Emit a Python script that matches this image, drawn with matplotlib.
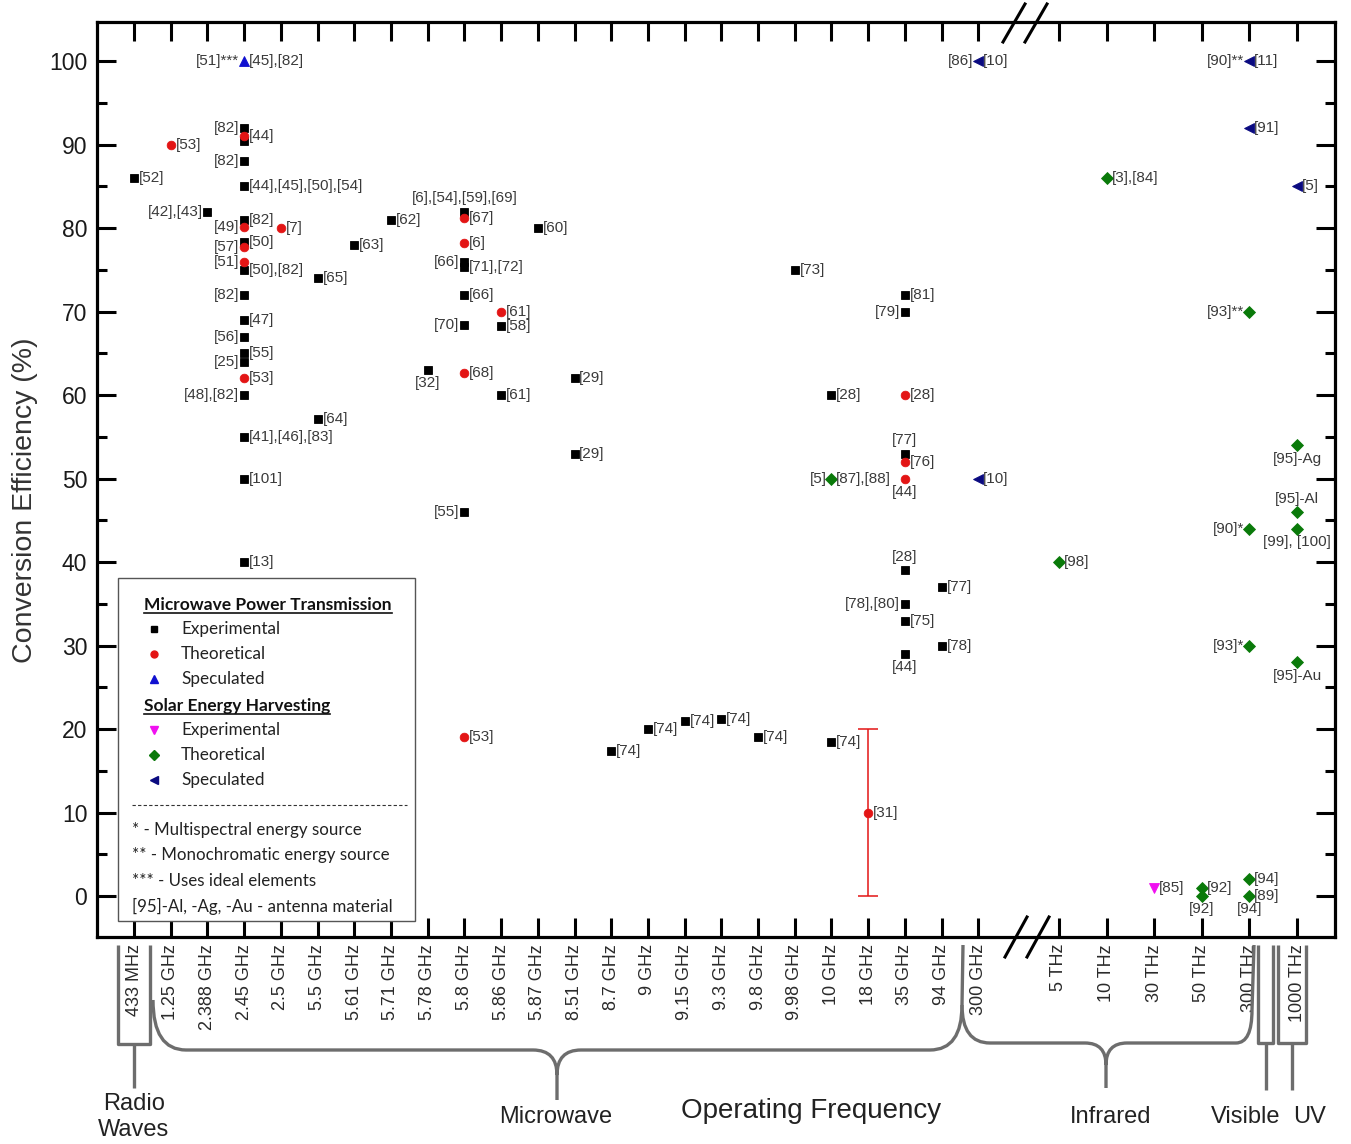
import matplotlib
matplotlib.use("Agg")
import matplotlib.pyplot as plt
from matplotlib.path import Path
from matplotlib.patches import PathPatch, Rectangle
from matplotlib.lines import Line2D
from matplotlib.ticker import MultipleLocator, NullLocator
import numpy as np

W, H, DPI = 1351, 1144, 100

# ---------------- data ----------------
freq_labels = ["433 MHz", "1.25 GHz", "2.388 GHz", "2.45 GHz", "2.5 GHz", "5.5 GHz",
               "5.61 GHz", "5.71 GHz", "5.78 GHz", "5.8 GHz", "5.86 GHz", "5.87 GHz",
               "8.51 GHz", "8.7 GHz", "9 GHz", "9.15 GHz", "9.3 GHz", "9.8 GHz",
               "9.98 GHz", "10 GHz", "18 GHz", "35 GHz", "94 GHz", "300 GHz",
               "5 THz", "10 THz", "30 THz", "50 THz", "300 THz", "1000 THz"]

# Microwave Power Transmission - experimental
mpt_exp_freq = ["433 MHz", "2.388 GHz", "2.45 GHz", "2.45 GHz", "2.45 GHz", "2.45 GHz",
                "2.45 GHz", "2.45 GHz", "2.45 GHz", "2.45 GHz", "2.45 GHz", "2.45 GHz",
                "2.45 GHz", "2.45 GHz", "2.45 GHz", "2.45 GHz", "2.45 GHz", "2.45 GHz",
                "5.5 GHz", "5.5 GHz", "5.61 GHz", "5.71 GHz", "5.78 GHz", "5.8 GHz",
                "5.8 GHz", "5.8 GHz", "5.8 GHz", "5.8 GHz", "5.8 GHz", "5.86 GHz",
                "5.86 GHz", "5.87 GHz", "8.51 GHz", "8.51 GHz", "8.7 GHz", "9 GHz",
                "9.15 GHz", "9.3 GHz", "9.8 GHz", "9.98 GHz", "10 GHz", "10 GHz",
                "35 GHz", "35 GHz", "35 GHz", "35 GHz", "35 GHz", "35 GHz", "35 GHz",
                "94 GHz", "94 GHz"]
mpt_exp_eff = [86, 82, 92, 90.4, 88, 85, 81, 78.3, 75, 72, 69, 67, 65, 64, 60, 55, 50, 40,
               74, 57.2, 78, 81, 63, 82, 76, 75.3, 72, 68.4, 46, 68.3, 60, 80, 62, 53,
               17.4, 20, 21, 21.2, 19, 75, 18.4, 60, 72, 70, 53, 39, 35, 33, 29, 37, 30]
mpt_exp_refs = ["[52]", "[42],[43]", "[82]", "", "[82]", "[44],[45],[50],[54]", "[82]",
                "[50]", "[50],[82]", "[82]", "[47]", "[56]", "[55]", "[25]", "[48],[82]",
                "[41],[46],[83]", "[101]", "[13]", "[65]", "[64]", "[63]", "[62]", "[32]",
                "[6],[54],[59],[69]", "[66]", "[71],[72]", "[66]", "[70]", "[55]", "[58]",
                "[61]", "[60]", "[29]", "[29]", "[74]", "[74]", "[74]", "[74]", "[74]",
                "[73]", "[74]", "[28]", "[81]", "[79]", "[77]", "[28]", "[78],[80]", "[75]",
                "[44]", "[77]", "[78]"]
mpt_exp_side = ["r", "l", "l", "", "l", "r", "r", "r", "r", "l", "r", "l", "r", "l", "l",
                "r", "r", "r", "r", "r", "r", "r", "b", "t", "l", "r", "r", "l", "l", "r",
                "r", "r", "r", "r", "r", "r", "r", "r", "r", "r", "r", "r", "r", "l", "t",
                "t", "l", "r", "b", "r", "r"]

# Microwave Power Transmission - theoretical
mpt_theo_freq = ["1.25 GHz", "2.45 GHz", "2.45 GHz", "2.45 GHz", "2.45 GHz", "2.45 GHz",
                 "2.5 GHz", "5.8 GHz", "5.8 GHz", "5.8 GHz", "5.8 GHz", "5.86 GHz",
                 "18 GHz", "35 GHz", "35 GHz", "35 GHz"]
mpt_theo_eff = [90, 91, 80.2, 77.7, 76, 62, 80, 81.2, 78.2, 62.7, 19, 70, 10, 60, 52, 50]
mpt_theo_refs = ["[53]", "[44]", "[49]", "[57]", "[51]", "[53]", "[7]", "[67]", "[6]",
                 "[68]", "[53]", "[61]", "[31]", "[28]", "[76]", "[44]"]
mpt_theo_side = ["r", "r", "l", "l", "l", "r", "r", "r", "r", "r", "r", "r", "r", "r",
                 "r", "b"]
# range bar of ref [31]
mpt_range_freq = ["18 GHz"]
mpt_range_eff = [10]
mpt_range_err = [10]

# Microwave Power Transmission - speculated
mpt_spec_freq = ["2.45 GHz"]
mpt_spec_eff = [100]
mpt_spec_refs = ["[51]***|[45],[82]"]
mpt_spec_side = ["lr"]

# Solar Energy Harvesting - experimental
seh_exp_freq = ["30 THz"]
seh_exp_eff = [1]
seh_exp_refs = ["[85]"]
seh_exp_side = ["r"]

# Solar Energy Harvesting - theoretical
seh_theo_freq = ["10 GHz", "5 THz", "10 THz", "50 THz", "50 THz", "300 THz", "300 THz",
                 "300 THz", "300 THz", "300 THz", "1000 THz", "1000 THz", "1000 THz",
                 "1000 THz"]
seh_theo_eff = [50, 40, 86, 1, 0, 70, 44, 30, 2, 0, 54, 46, 44, 28]
seh_theo_refs = ["[5]|[87],[88]", "[98]", "[3],[84]", "[92]", "[92]", "[93]**", "[90]*",
                 "[93]*", "[94]", "[89]|[94]", "[95]-Ag", "[95]-Al", "[99], [100]",
                 "[95]-Au"]
seh_theo_side = ["lr", "r", "r", "r", "b", "l", "l", "l", "r", "rb", "b", "t", "b", "b"]

# Solar Energy Harvesting - speculated
seh_spec_freq = ["300 GHz", "300 GHz", "300 THz", "300 THz", "1000 THz"]
seh_spec_eff = [100, 50, 100, 92, 85]
seh_spec_refs = ["[86]|[10]", "[10]", "[90]**|[11]", "[91]", "[5]"]
seh_spec_side = ["lr", "r", "lr", "r", "r"]

# ---------------- layout ----------------
n_low = freq_labels.index("300 GHz") + 1
break_gap, wide_step = 2.2, 1.297
cat_pos = {}
for i, lab in enumerate(freq_labels):
    cat_pos[lab] = float(i) if i < n_low else (n_low - 1) + break_gap + (i - n_low) * wide_step


def F(x, y):
    return (x / W, 1 - y / H)


fig = plt.figure(figsize=(W / DPI, H / DPI), dpi=DPI)
ax = fig.add_axes([97 / W, 1 - 937 / H, (1335 - 97) / W, (937 - 22) / H])
ax.set_xlim(-1.01, 32.72)
ax.set_ylim(-4.9, 104.7)

LBL_FONT = dict(family="Liberation Sans", size=11, color="#3a3a3a")

series = [
    (mpt_exp_freq, mpt_exp_eff, mpt_exp_refs, mpt_exp_side, dict(marker="s", color="black", ms=5.8)),
    (mpt_theo_freq, mpt_theo_eff, mpt_theo_refs, mpt_theo_side, dict(marker="o", color="#e31515", ms=6.2)),
    (mpt_spec_freq, mpt_spec_eff, mpt_spec_refs, mpt_spec_side, dict(marker="^", color="#1010d0", ms=7)),
    (seh_exp_freq, seh_exp_eff, seh_exp_refs, seh_exp_side, dict(marker="v", color="#f010f0", ms=7)),
    (seh_theo_freq, seh_theo_eff, seh_theo_refs, seh_theo_side, dict(marker="D", color="#0a7a0a", ms=6)),
    (seh_spec_freq, seh_spec_eff, seh_spec_refs, seh_spec_side, dict(marker="<", color="#0a0a80", ms=7)),
]

offsets = {"r": ((3.5, 0), "left", "center"),
           "l": ((-3.5, 0), "right", "center"),
           "t": ((0, 4.5), "center", "bottom"),
           "b": ((0, -4.5), "center", "top")}

ax.errorbar([cat_pos[f] for f in mpt_range_freq], mpt_range_eff, yerr=mpt_range_err,
            fmt="none", ecolor="#e31515", elinewidth=1.1, capsize=7, capthick=1.1, zorder=3)

for freqs, effs, refs, sides, st in series:
    xs = [cat_pos[f] for f in freqs]
    ax.plot(xs, effs, linestyle="none", marker=st["marker"], color=st["color"],
            markersize=st["ms"], markeredgewidth=0.6, zorder=4, clip_on=False)
    for x, y, ref, side in zip(xs, effs, refs, sides):
        if not ref:
            continue
        parts = ref.split("|")
        for part, s in zip(parts, side):
            off, ha, va = offsets[s]
            ax.annotate(part, (x, y), xytext=off, textcoords="offset points",
                        ha=ha, va=va, zorder=5, fontfamily=LBL_FONT["family"],
                        fontsize=LBL_FONT["size"], color=LBL_FONT["color"])

# ---------------- axes styling ----------------
for sp in ax.spines.values():
    sp.set_linewidth(2.3)
ax.set_xticks([cat_pos[f] for f in freq_labels])
ax.set_xticklabels(freq_labels, rotation=90, fontsize=13, color="#2a2a2a",
                   fontfamily="Liberation Sans")
ax.xaxis.set_minor_locator(NullLocator())
ax.tick_params(axis="x", which="major", direction="in", length=14, width=2.2,
               top=True, bottom=True, pad=5)
ax.set_yticks(np.arange(0, 101, 10))
ax.yaxis.set_minor_locator(MultipleLocator(5))
ax.tick_params(axis="y", which="major", direction="in", length=14, width=2.2,
               left=True, right=True, labelsize=16.5, pad=7, labelcolor="#1a1a1a")
ax.tick_params(axis="y", which="minor", direction="in", length=7, width=2.2,
               left=True, right=True)
for lab in ax.get_yticklabels():
    lab.set_fontfamily("Liberation Sans")

fig.text(*F(25, 500), "Conversion Efficiency (%)", rotation=90, ha="center", va="center",
         fontsize=20.5, color="#333333", fontfamily="Liberation Sans")

# axis break marks
for x0 in (1003, 1025):
    fig.add_artist(Line2D([x0 / W, (x0 + 22) / W], [1 - 42 / H, 1 - 4 / H],
                          color="black", lw=2.2))
    fig.add_artist(Line2D([(x0 + 2) / W, (x0 + 24) / W], [1 - 957 / H, 1 - 917 / H],
                          color="black", lw=2.2))

# ---------------- band braces below the axis ----------------
GR = "#6d6d6d"


def fig_path(verts, codes, lw=2.4):
    v = [F(x, y) for x, y in verts]
    fig.add_artist(PathPatch(Path(v, codes), fill=False, edgecolor=GR, lw=lw,
                             transform=fig.transFigure, capstyle="butt", joinstyle="round"))


M, L, C = Path.MOVETO, Path.LINETO, Path.CURVE3
# Radio waves bracket
fig_path([(118, 945), (118, 1044), (150, 1044), (150, 945)], [M, L, L, L])
fig_path([(134, 1044), (134, 1088)], [M, L])
# Microwave brace
fig_path([(153, 1000), (153, 1050), (186, 1050), (533, 1050), (557, 1050), (557, 1075),
          (557, 1100), (557, 1075), (557, 1050), (581, 1050), (930, 1050), (962, 1050),
          (962, 1005), (963, 945)],
         [M, C, C, L, C, C, L, M, C, C, L, C, C, L])
# Infrared brace
fig_path([(962, 1005), (962, 1043), (990, 1043), (1085, 1043), (1106, 1043), (1106, 1065),
          (1106, 1088), (1106, 1065), (1106, 1043), (1127, 1043), (1236, 1043), (1252, 1043),
          (1252, 1010), (1254, 945)],
         [M, C, C, L, C, C, L, M, C, C, L, C, C, L])
# Visible bracket
fig_path([(1258, 945), (1258, 1043), (1273, 1043), (1273, 945)], [M, L, L, L])
fig_path([(1266, 1043), (1266, 1090)], [M, L])
# UV bracket
fig_path([(1278, 945), (1278, 1043), (1306, 1043), (1306, 945)], [M, L, L, L])
fig_path([(1292, 1043), (1292, 1090)], [M, L])

band_font = dict(fontsize=17, color="#222222", fontfamily="Liberation Sans")
fig.text(*F(134, 1117), "Radio\nWaves", ha="center", va="center", linespacing=1.25, **band_font)
fig.text(*F(556, 1117), "Microwave", ha="center", va="center", **band_font)
fig.text(*F(1111, 1117), "Infrared", ha="center", va="center", **band_font)
fig.text(*F(1246, 1117), "Visible", ha="center", va="center", **band_font)
fig.text(*F(1310, 1117), "UV", ha="center", va="center", **band_font)
fig.text(*F(811, 1111), "Operating Frequency", ha="center", va="center", fontsize=20,
         color="#222222", fontfamily="Liberation Sans")

# ---------------- legend box ----------------
LEG_FONT = "Lato"
fig.add_artist(Rectangle(F(118, 921), (415 - 118) / W, (921 - 578) / H,
                         transform=fig.transFigure, facecolor="white",
                         edgecolor="#555555", lw=1.0, zorder=6))
headers = [("Microwave Power Transmission", 604), ("Solar Energy Harvesting", 705)]
entries = [("s", "black", 5.0, "Experimental", 629), ("o", "#e31515", 5.0, "Theoretical", 654),
           ("^", "#1010d0", 6.0, "Speculated", 679), ("v", "#f010f0", 6.0, "Experimental", 730),
           ("D", "#0a7a0a", 5.0, "Theoretical", 755), ("<", "#0a0a80", 6.0, "Speculated", 780)]
notes = [("* - Multispectral energy source", 830), ("** - Monochromatic energy source", 855),
         ("*** - Uses ideal elements", 881), ("[95]-Al, -Ag, -Au - antenna material", 906)]

header_texts = []
for txt, y in headers:
    t = fig.text(*F(144, y + 6), txt, ha="left", va="baseline", fontsize=12.5,
                 fontweight="bold", color="#111111", fontfamily=LEG_FONT, zorder=7)
    header_texts.append((t, y))
for mk, col, ms, txt, y in entries:
    fig.add_artist(Line2D([154 / W], [1 - y / H], marker=mk, color=col, markersize=ms,
                          linestyle="none", transform=fig.transFigure, zorder=7))
    fig.text(*F(181, y), txt, ha="left", va="center", fontsize=12.3, color="#222222",
             fontfamily=LEG_FONT, zorder=7)
fig.add_artist(Line2D([132 / W, 407 / W], [1 - 805 / H] * 2, color="#333333", lw=0.8,
                      linestyle=(0, (3, 2)), transform=fig.transFigure, zorder=7))
for txt, y in notes:
    fig.text(*F(132, y), txt, ha="left", va="center", fontsize=12.2, color="#222222",
             fontfamily=LEG_FONT, zorder=7)

fig.canvas.draw()
for t, y in header_texts:
    bb = t.get_window_extent()
    yy = (H - (y + 9)) / H
    fig.add_artist(Line2D([bb.x0 / W, bb.x1 / W], [yy, yy], color="#111111", lw=1.2,
                          transform=fig.transFigure, zorder=7))

fig.savefig("out.png", dpi=DPI)
